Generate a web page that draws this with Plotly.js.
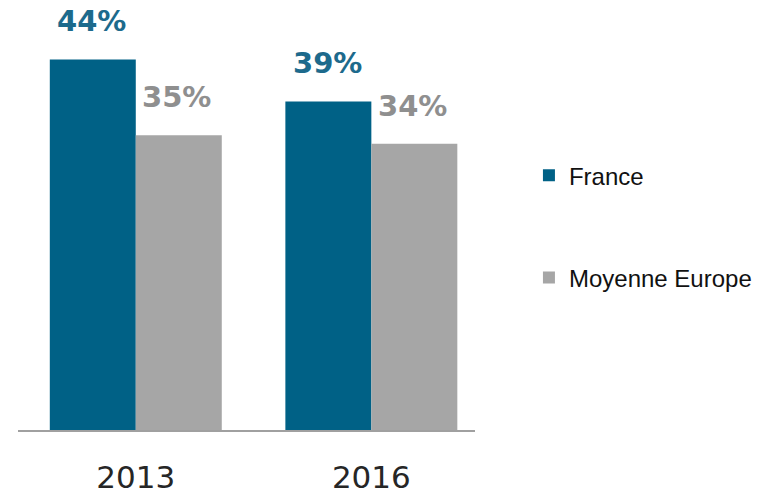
<!DOCTYPE html>
<html><head><meta charset="utf-8">
<script src="https://cdn.plot.ly/plotly-3.0.1.min.js"></script>
<style>body{margin:0;background:#fff}#chart{width:779px;height:495px}</style>
</head><body><div id="chart"></div>
<script>
var years = ["2013", "2016"];
var france = [44, 39];
var europe = [35, 34];
var seriesNames = ["France", "Moyenne Europe"];
var franceColor = "#006186", europeColor = "#a6a6a6";
var franceLabel = "#1d6a8c", europeLabel = "#8f8f8f";

var traces = [
  {type:"bar", x:years, y:france, name:seriesNames[0], marker:{color:franceColor}, legendgroup:"a", hoverinfo:"none"},
  {type:"bar", x:years, y:europe, name:seriesNames[1], marker:{color:europeColor}, legendgroup:"b", hoverinfo:"none"}
];

var annotations = [];
years.forEach(function(yr, i){
  annotations.push({x:i, y:france[i], xref:"x", yref:"y", text:"<b>"+france[i]+"%</b>", showarrow:false,
    xshift:-44, yshift:20, yanchor:"bottom", font:{family:"DejaVu Sans", size:29, color:franceLabel}});
  annotations.push({x:i, y:europe[i], xref:"x", yref:"y", text:"<b>"+europe[i]+"%</b>", showarrow:false,
    xshift:41, yshift:19, yanchor:"bottom", font:{family:"DejaVu Sans", size:29, color:europeLabel}});
});

var layout = {
  width:779, height:495,
  margin:{l:18, r:304, t:9, b:65},
  paper_bgcolor:"#fff", plot_bgcolor:"#fff",
  barmode:"group", bargap:0.27, bargroupgap:0,
  xaxis:{type:"category", range:[-0.5,1.44], showline:true, linecolor:"#a0a0a0", linewidth:1.5,
    showgrid:false, zeroline:false, ticks:"", tickfont:{family:"DejaVu Sans", size:31, color:"#262626"}, ticklabelstandoff:19},
  yaxis:{range:[0,50], visible:false, showgrid:false, zeroline:false},
  showlegend:true,
  legend:{xref:"container", yref:"container", x:0.679, y:0.542, xanchor:"left", yanchor:"middle",
    font:{family:"Liberation Sans", size:24, color:"#111"}, tracegroupgap:68, itemclick:false},
  annotations:annotations
};
Plotly.newPlot("chart", traces, layout, {displayModeBar:false, staticPlot:true});
</script></body></html>
